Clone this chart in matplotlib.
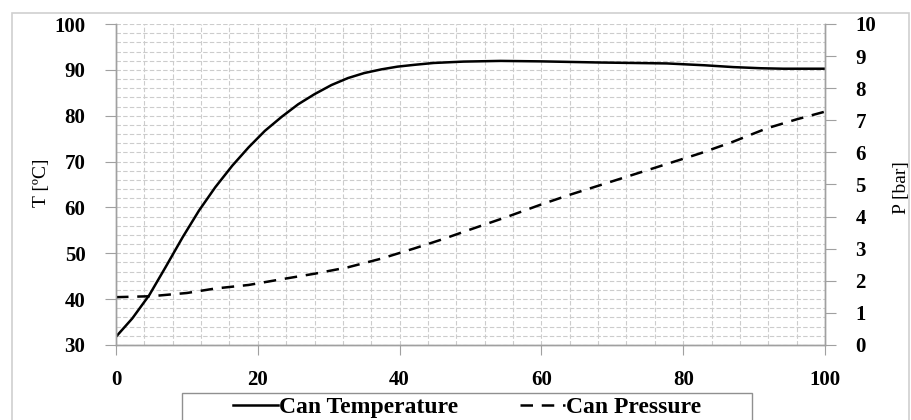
import matplotlib
matplotlib.use("Agg")
import matplotlib.pyplot as plt
from matplotlib.lines import Line2D
from matplotlib.patches import Rectangle
from matplotlib.ticker import MultipleLocator

# Data
time_T = [0, 2.3, 4.7, 7.0, 9.4, 11.7, 14.0, 16.4, 18.7, 21.0, 23.4, 25.7, 28.0,
          30.4, 32.7, 35.0, 37.4, 39.7, 42.1, 44.8, 49.0, 54.2, 60.0, 68.3, 77.7,
          83.0, 87.1, 91.0, 94.1, 100]
temp = [31.8, 35.8, 40.9, 47.0, 53.5, 59.3, 64.4, 69.1, 73.1, 76.7, 79.8, 82.5,
        84.7, 86.7, 88.2, 89.3, 90.1, 90.7, 91.1, 91.5, 91.8, 91.95, 91.85, 91.6,
        91.4, 91.0, 90.6, 90.35, 90.25, 90.25]
time_P = [0, 5, 10, 14, 18.7, 23.4, 28, 32.7, 37.4, 42.1, 46, 50, 55, 60, 64,
          68.3, 72, 76, 82.4, 87, 91.8, 96, 100]
pres = [1.49, 1.52, 1.62, 1.76, 1.87, 2.05, 2.22, 2.42, 2.69, 3.01, 3.29, 3.6,
        3.98, 4.38, 4.68, 4.98, 5.24, 5.52, 5.97, 6.33, 6.75, 7.03, 7.27]

x_ticks = [0, 20, 40, 60, 80, 100]
T_ticks = [30, 40, 50, 60, 70, 80, 90, 100]
P_ticks = list(range(0, 11))

plt.rcParams['font.family'] = ['Liberation Serif', 'DejaVu Serif']

fig = plt.figure(figsize=(9.12, 4.2), dpi=100)
ax = fig.add_axes([116/912, 75/420, (825-116)/912, (345-24)/420])
ax2 = ax.twinx()

lt, = ax.plot(time_T, temp, color='black', lw=1.8, label='Can Temperature')
lp, = ax2.plot(time_P, pres, color='black', lw=1.8, label='Can Pressure')
lp.set_dashes([5, 3.5])

ax.set_xlim(0, 100)
ax.set_ylim(30, 100)
ax2.set_ylim(0, 10)
ax.set_xticks(x_ticks)
ax.set_yticks(T_ticks)
ax2.set_yticks(P_ticks)
ax.xaxis.set_minor_locator(MultipleLocator(4))
ax.yaxis.set_minor_locator(MultipleLocator(2))

gc = '#cccccc'
ax.grid(True, which='both', axis='both', color=gc, ls=(0, (4, 2)), lw=0.8)
ax.set_axisbelow(True)
ax.tick_params(which='minor', length=0)

spc = '#a0a0a0'
for a in (ax, ax2):
    a.spines['top'].set_visible(False)
    for s in ('left', 'right', 'bottom'):
        a.spines[s].set_color(spc)
        a.spines[s].set_linewidth(1.0)
ax.tick_params(axis='y', which='major', length=8, color=spc, pad=14,
               labelsize=15)
ax.tick_params(axis='x', which='major', length=7, color=spc, pad=11,
               labelsize=15)
ax2.tick_params(axis='y', which='major', length=8, color=spc, pad=14,
                labelsize=15)
for lab in ax.get_xticklabels() + ax.get_yticklabels() + ax2.get_yticklabels():
    lab.set_fontweight('bold')

fig.text(42/912, 1 - 183/420, 'T [ºC]', rotation=90, ha='center', va='center',
         fontsize=14)
fig.text(902/912, 1 - 188/420, 'P [bar]', rotation=90, ha='center', va='center',
         fontsize=14)

# outer border
fig.add_artist(Rectangle((12/912, -0.05), (909-12)/912, 1.05 - 13/420,
                         transform=fig.transFigure, fill=False,
                         edgecolor='#d0d0d0', lw=1.2, clip_on=False))
# legend frame
fig.add_artist(Rectangle((182/912, -0.05), (752-182)/912, 0.05 + 27/420,
                         transform=fig.transFigure, fill=True, facecolor='white',
                         edgecolor='#909090', lw=1.0, clip_on=False))

h1 = Line2D([], [], color='black', lw=1.8)
h2 = Line2D([], [], color='black', lw=1.8)
h2.set_dashes([5, 3.5])
leg = fig.legend([h1, h2], ['Can Temperature', 'Can Pressure'],
                 loc='center', bbox_to_anchor=(467/912, 1 - 407/420),
                 ncol=2, frameon=False, handlelength=1.9,
                 handletextpad=0.05, columnspacing=2.6, borderpad=0.0,
                 prop={'weight': 'bold', 'size': 17})

fig.savefig('out.png', dpi=100)
